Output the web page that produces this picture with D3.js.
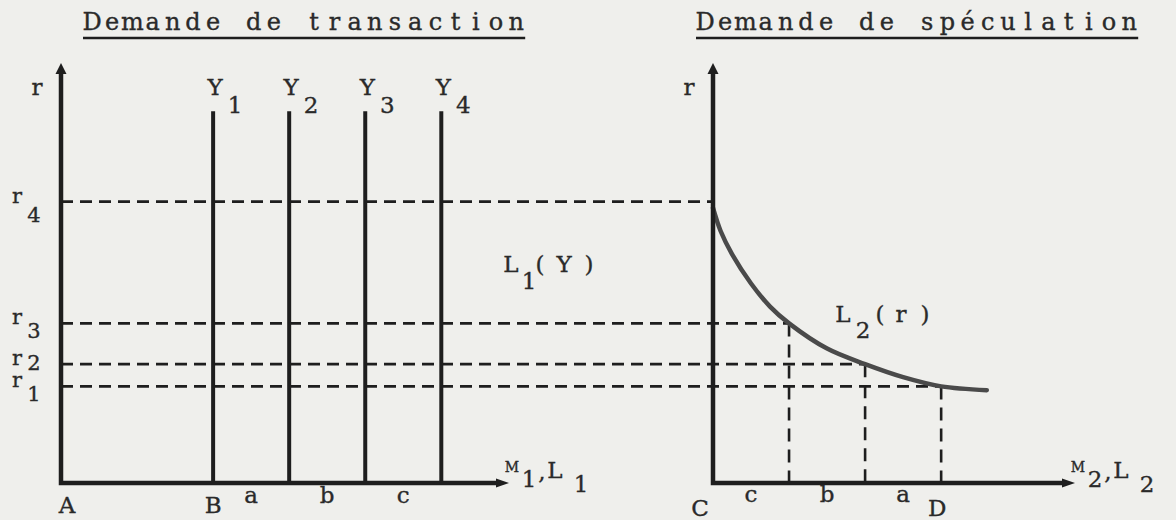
<!DOCTYPE html>
<html>
<head>
<meta charset="utf-8">
<script src="https://cdn.jsdelivr.net/npm/d3@7"></script>
<style>
  html, body { margin: 0; padding: 0; background: #efefec; }
  svg { display: block; }
  text { font-family: 'DejaVu Serif', 'Liberation Serif', serif; fill: #2a2a2a; stroke: #2a2a2a; stroke-width: 0.35px; }
</style>
</head>
<body>
<div id="chart"></div>
<script>
// --- data ---
const titles = ['Demande de transaction', 'Demande de spéculation'];
const incomeLevels = [2, 3, 4, 5];           // Y1..Y4 : transaction demand on the M1 axis
const incomeTop = 8.85;                      // where the Y verticals stop (r units)
const rateLevels = [2.3, 2.83, 3.8, 6.7];    // r1..r4
const specAtRate = [3, 2, 1, 0];             // M2 held at r1..r4
const curveM = [0, 0.1, 0.25, 0.5, 0.75, 1, 1.5, 2, 2.5, 3, 3.6];
const curveR = [6.55, 6.0, 5.45, 4.75, 4.2, 3.8, 3.2, 2.83, 2.52, 2.3, 2.21];
const leftGaps = ['a', 'b', 'c'];
const rightGaps = ['c', 'b', 'a'];

const width = 1176, height = 520;
const ink = '#1e1e1e';
const pitch = 20.2;   // typewriter character pitch
const fs = 23;        // label size

const svg = d3.select('#chart').append('svg')
  .attr('width', width).attr('height', height)
  .attr('viewBox', `0 0 ${width} ${height}`);

const y = d3.scaleLinear().domain([0, 10]).range([483, 63]);
const xL = d3.scaleLinear().domain([0, 5.89]).range([61, 509]);
const xR = d3.scaleLinear().domain([0, 4.76]).range([713, 1075]);

function label(txt, x, yb, size = fs) {
  return svg.append('text')
    .attr('x', x).attr('y', yb)
    .attr('text-anchor', 'middle')
    .attr('font-size', size)
    .text(txt);
}

// fixed pitch text, one glyph per cell like the typewriter
function typed(str, x0, yb, size = 24) {
  const g = svg.append('g');
  g.selectAll('text')
    .data([...str])
    .join('text')
    .attr('x', (_, i) => x0 + i * pitch + 7)
    .attr('y', yb)
    .attr('text-anchor', 'middle')
    .attr('font-size', size)
    .text(d => d);
  return x0 + (str.length - 1) * pitch + 14;
}

// titles, typed and underlined
[[titles[0], 85], [titles[1], 698]].forEach(([t, x0]) => {
  const xEnd = typed(t, x0, 30);
  svg.append('line')
    .attr('x1', x0 - 2).attr('x2', xEnd + 2)
    .attr('y1', 38).attr('y2', 38)
    .attr('stroke', ink).attr('stroke-width', 2.6);
});

// dashed rate levels, running across both panels up to L2(r)
const dashes = svg.append('g')
  .attr('stroke', ink).attr('stroke-width', 2.6)
  .attr('stroke-dasharray', '12,7').attr('fill', 'none');

rateLevels.forEach((r, i) => {
  dashes.append('line')
    .attr('x1', xL(0)).attr('x2', xR(specAtRate[i]))
    .attr('y1', y(r)).attr('y2', y(r));
  if (specAtRate[i] > 0) {
    dashes.append('line')
      .attr('x1', xR(specAtRate[i])).attr('x2', xR(specAtRate[i]))
      .attr('y1', y(r)).attr('y2', y(0))
      .attr('stroke-dasharray', '13,8');
  }
});

// transaction demand verticals
svg.append('g').selectAll('line')
  .data(incomeLevels)
  .join('line')
  .attr('x1', d => xL(d)).attr('x2', d => xL(d))
  .attr('y1', y(incomeTop)).attr('y2', y(0))
  .attr('stroke', ink).attr('stroke-width', 4);

// speculative demand curve
svg.append('path')
  .datum(curveM.map((m, i) => [m, curveR[i]]))
  .attr('fill', 'none')
  .attr('stroke', '#4a4a4a').attr('stroke-width', 4.5)
  .attr('stroke-linecap', 'round')
  .attr('d', d3.line().x(d => xR(d[0])).y(d => y(d[1])).curve(d3.curveCatmullRom));

// axes with arrowheads
function axes(xs) {
  const x0 = xs(0), y0 = y(0);
  const xEnd = xs.range()[1], yEnd = y.range()[1];
  svg.append('path')
    .attr('d', `M${x0},${yEnd + 8} L${x0},${y0} L${xEnd - 10},${y0}`)
    .attr('fill', 'none').attr('stroke', ink).attr('stroke-width', 4.5)
    .attr('stroke-linejoin', 'miter');
  svg.append('path')
    .attr('d', `M${x0},${yEnd} L${x0 - 5.5},${yEnd + 11} L${x0 + 5.5},${yEnd + 11} Z`)
    .attr('fill', ink);
  svg.append('path')
    .attr('d', `M${xEnd},${y0} L${xEnd - 13},${y0 - 4.5} L${xEnd - 13},${y0 + 4.5} Z`)
    .attr('fill', ink);
}
axes(xL);
axes(xR);

// axis names
label('r', xL(0) - 24, 95);
label('r', xR(0) - 24, 95);

// r1..r4 on the left
const subOffset = [15, 6, 15, 20];
rateLevels.forEach((r, i) => {
  label('r', 17, y(r) + 1, 21);
  label(String(i + 1), 34, y(r) + subOffset[i], 21);
});

// Y1..Y4
incomeLevels.forEach((v, i) => {
  label('Y', xL(v) + 2, 95);
  label(String(i + 1), xL(v) + 22, 113);
});

// L1(Y) and L2(r)
label('L', 511, 272);
label('1', 529, 289);
label('(', 540, 272);
label('Y', 564, 272);
label(')', 589, 272);
label('L', 843, 322);
label('2', 863, 338);
label('(', 880, 322);
label('r', 901, 322);
label(')', 925, 322);

// M1,L1 and M2,L2
[[xL, '1'], [xR, '2']].forEach(([xs, k]) => {
  const tip = xs.range()[1];
  label('M', tip + 3, 472, 14);
  label(k, tip + 20, 487);
  label(',', tip + 33, 480);
  label('L', tip + 46, 478);
  label(k, tip + 72, 492);
});

// points under the axes
label('A', xL(0) + 6, 513);
label('B', xL(incomeLevels[0]), 513);
leftGaps.forEach((t, i) => label(t, (xL(incomeLevels[i]) + xL(incomeLevels[i + 1])) / 2, 503));

const specSorted = [0, ...specAtRate.filter(d => d > 0).sort(d3.ascending)];
label('C', xR(0) - 13, 516);
rightGaps.forEach((t, i) => label(t, (xR(specSorted[i]) + xR(specSorted[i + 1])) / 2, 502));
label('D', xR(specSorted[specSorted.length - 1]) - 4, 516);
</script>
</body>
</html>
